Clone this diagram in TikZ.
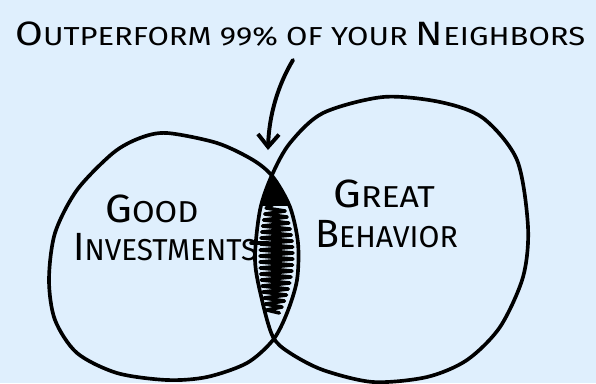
\documentclass[tikz,border=0pt]{standalone}
\usepackage{fontspec}
\setmainfont{Fira Sans}
\usepackage{graphicx}
\usepackage{tikz}
\usetikzlibrary{arrows.meta}

\definecolor{fondo}{RGB}{223,239,253}
\newcommand{\grande}[1]{{\fontsize{28}{28}\selectfont #1}}
\newcommand{\grandet}[1]{{\fontsize{24}{24}\selectfont #1}}
\def\circizq{plot[smooth cycle] coordinates {(167,133) (217,143) (253,160) (273,177) (290,207) (298,243) (297,280) (287,313) (273,340) (247,363) (207,377) (167,380) (117,373) (77,353) (55,320) (49,280) (55,233) (77,190) (113,153) (140,138)}}
\def\circder{plot[smooth cycle] coordinates {(383,97) (440,102) (483,118) (517,160) (528,227) (523,277) (500,327) (467,360) (427,377) (373,382) (323,370) (290,353) (273,337) (262,300) (255,260) (260,210) (272,175) (290,143) (323,113)}}

\begin{document}
\begin{tikzpicture}[x=0.025cm,y=-0.025cm]
		\tikzset{trazo/.style={line width=2.6pt,line cap=round,line join=round},
			rayado/.style={line width=2.5pt,line cap=round,line join=round},
			texto/.style={inner sep=0pt,anchor=base west,font=\fontsize{21.5}{21.5}\selectfont},
			declare function={lensL(\y)=255+0.00247*(\y-258)^2+5; lensR(\y)=298-0.00406*(\y-255)^2-5;}}
		%Fondo
		\fill[fondo] (0,0) rectangle (596,383);
		\useasboundingbox (0,0) rectangle (596,383);

		%Circulos
		\draw[trazo] \circizq;
		\draw[trazo] \circder;

		%Zona comun
		\begin{scope}
			\clip \circizq;
			\clip \circder;
			\fill (240,160) rectangle (310,206);
			\draw[rayado] (274,204) \foreach \y in {208,214,...,314} { -- ({lensL(\y)},\y) -- ({lensR(\y+3)},\y+3) };
		\end{scope}
		\draw[rayado] (251,243) -- (268,243);

		%Textos
		\node (titulo) at (15,45) [texto,font=\fontsize{18.5}{18.5}\selectfont] {\scalebox{1.19}[1]{\grandet{O}UTPERFORM 99\% OF YOUR \grandet{N}EIGHBORS}};
		\node (good) at (105,222) [texto] {\scalebox{1.08}[1]{\grande{G}OOD}};
		\node (inv) at (73,260) [texto] {\scalebox{0.98}[1]{\grande{I}NVESTMENTS}};
		\node (great) at (333,207) [texto] {\scalebox{1.12}[1]{\grande{G}REAT}};
		\node (behav) at (315,247) [texto] {\grande{B}EHAVIOR};

		%Flecha
		\coordinate (ini) at (293,60);
		\coordinate (fin) at (268,150);
		\draw[trazo,line width=2.8pt,-{Straight Barb[length=9pt,width=15pt]}] (ini) .. controls (278,85) and (269,115) .. (fin);
\end{tikzpicture}
\end{document}
